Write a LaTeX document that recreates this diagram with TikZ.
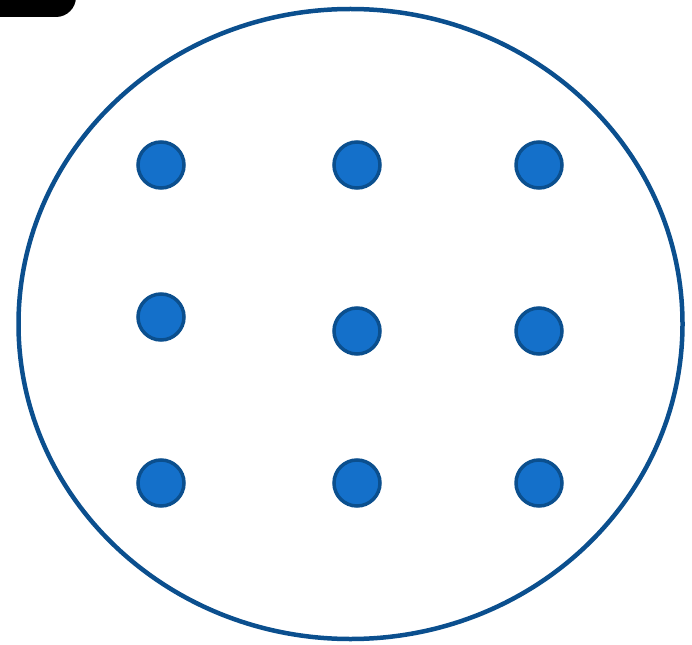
\documentclass[tikz,border=0pt]{standalone}
\definecolor{ringblue}{HTML}{0B4F8E}
\definecolor{dotfill}{HTML}{1470CA}
\definecolor{dotedge}{HTML}{0B4F8E}
\begin{document}
\begin{tikzpicture}[x=1pt,y=-1pt,
  dot/.style={circle,draw=dotedge,fill=dotfill,line width=3.5pt,minimum size=46pt,inner sep=0pt}]
\useasboundingbox (0,0) rectangle (692,644);
\fill[black,rounded corners=20pt] (-30,-30) rectangle (76,17);
\draw[ringblue,line width=4.5pt] (350.5,324) ellipse [x radius=332, y radius=315];
\node[dot] (d11) at (161,165) {};
\node[dot] (d12) at (357,165) {};
\node[dot] (d13) at (539,165) {};
\node[dot] (d21) at (161,317) {};
\node[dot] (d22) at (357,331) {};
\node[dot] (d23) at (539,331) {};
\node[dot] (d31) at (161,483) {};
\node[dot] (d32) at (357,483) {};
\node[dot] (d33) at (539,483) {};
\end{tikzpicture}
\end{document}
